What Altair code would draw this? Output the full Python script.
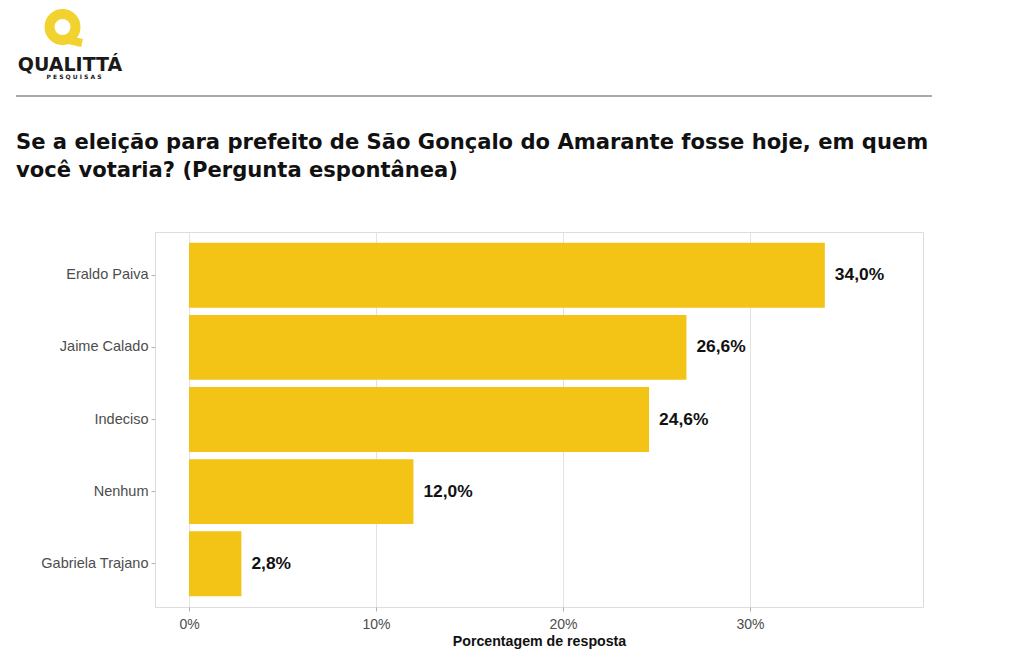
import altair as alt
import pandas as pd

nomes = ["Eraldo Paiva", "Jaime Calado", "Indeciso", "Nenhum", "Gabriela Trajano"]
valores = [34.0, 26.6, 24.6, 12.0, 2.8]
rotulos = [f"{v:.1f}".replace(".", ",") + "%" for v in valores]
ticks_x = [0, 10, 20, 30]

titulo = [
    "Se a eleição para prefeito de São Gonçalo do Amarante fosse hoje, em quem",
    "você votaria? (Pergunta espontânea)",
]

df = pd.DataFrame({"nome": nomes, "valor": valores, "rotulo": rotulos})

AMARELO = "#F3C315"
LOGO = "#F2D22E"
FONT = "Liberation Sans"

y_enc = alt.Y(
    "nome:N",
    sort=nomes,
    scale=alt.Scale(paddingInner=0.1, paddingOuter=0.15),
    axis=alt.Axis(
        title=None,
        labelFontSize=14.5,
        labelColor="#4d4d4d",
        labelFont=FONT,
        tickColor="#b3b3b3",
        tickSize=4,
        labelPadding=3,
        domain=False,
        grid=False,
    ),
)

x_enc = alt.X(
    "valor:Q",
    scale=alt.Scale(domain=[-1.82, 39.25], nice=False, zero=False),
    axis=alt.Axis(
        title="Porcentagem de resposta",
        titleFont=FONT,
        titleFontSize=14.2,
        titleFontWeight="bold",
        titleColor="#111111",
        titlePadding=3,
        values=ticks_x,
        labelExpr="datum.value + '%'",
        labelFontSize=14,
        labelColor="#4d4d4d",
        labelFont=FONT,
        labelPadding=6,
        tickColor="#b3b3b3",
        tickSize=4,
        domain=False,
        grid=True,
        gridColor="#e3e3e3",
        gridWidth=1,
    ),
)

bars = alt.Chart(df).mark_bar(color=AMARELO).encode(
    y=y_enc, x=x_enc, x2=alt.datum(0)
)

labels = alt.Chart(df).mark_text(
    align="left", baseline="middle", dx=10, fontSize=17.4, fontWeight="bold",
    font=FONT, color="#111111"
).encode(y=alt.Y("nome:N", sort=nomes), x="valor:Q", text="rotulo:N")

TFONT = "DejaVu Sans"
tit1 = alt.Chart(pd.DataFrame({"t": [titulo[0]]})).mark_text(
    align="left", baseline="alphabetic", fontSize=21.1, fontWeight="bold",
    font=TFONT, color="#111111"
).encode(x=alt.value(-139), y=alt.value(-83), text="t:N")
tit2 = alt.Chart(pd.DataFrame({"t": [titulo[1]]})).mark_text(
    align="left", baseline="alphabetic", fontSize=21.1, fontWeight="bold",
    font=TFONT, color="#111111"
).encode(x=alt.value(-139), y=alt.value(-55), text="t:N")

linha = alt.Chart(pd.DataFrame({"a": [0]})).mark_rule(
    color="#555555", strokeWidth=1.2
).encode(x=alt.value(-139), x2=alt.value(777), y=alt.value(-136))

# logo: yellow "Q" ring with tail
logo_anel = alt.Chart(pd.DataFrame({"a": [0]})).mark_point(
    shape="circle", filled=False, color=LOGO, strokeWidth=10, size=676, opacity=1
).encode(x=alt.value(-92.5), y=alt.value(-205))
logo_cauda = alt.Chart(pd.DataFrame({"a": [0]})).mark_rule(
    color=LOGO, strokeWidth=8, strokeCap="butt"
).encode(x=alt.value(-86), x2=alt.value(-73), y=alt.value(-192), y2=alt.value(-189))
logo_t = alt.Chart(pd.DataFrame({"t": ["QUALITTÁ"]})).mark_text(
    align="center", baseline="middle", fontSize=19, fontWeight=900,
    font="DejaVu Sans", color="#1a1a1a"
).encode(x=alt.value(-85), y=alt.value(-167), text="t:N")
logo_s = alt.Chart(pd.DataFrame({"t": ["P E S Q U I S A S"]})).mark_text(
    align="center", baseline="middle", fontSize=6, fontWeight="bold",
    font="DejaVu Sans", color="#1a1a1a"
).encode(x=alt.value(-81), y=alt.value(-155), text="t:N")

chart = alt.layer(
    bars, labels, tit1, tit2, linha, logo_anel, logo_cauda, logo_t, logo_s
).properties(
    width=768,
    height=375,
    autosize=alt.AutoSizeParams(type="none"),
    padding={"left": 147, "top": 224, "right": 93, "bottom": 48},
).configure_view(stroke="#c8c8c8", strokeWidth=1).configure(background="white")

chart.save("out.html", embed_options={"renderer": "svg", "actions": False})
